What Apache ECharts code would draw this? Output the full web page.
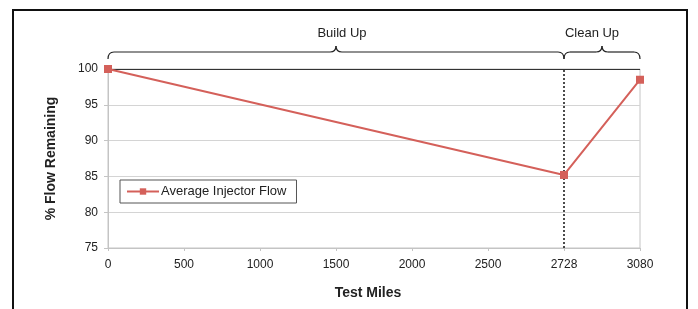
<!DOCTYPE html>
<html>
<head>
<meta charset="utf-8">
<script src="https://cdn.jsdelivr.net/npm/echarts@6/dist/echarts.min.js"></script>
<style>
  html, body { margin: 0; padding: 0; background: #fff; }
  #main { width: 698px; height: 309px; }
</style>
</head>
<body>
<div id="main"></div>
<script>
  // tick labels on the x axis (evenly spaced, not to scale)
  var xTicks = ['0', '500', '1000', '1500', '2000', '2500', '2728', '3080']
  // measured points
  var miles = ['0', '2728', '3080']
  var flow = [100, 85.2, 98.5]
  // phase annotations
  var phaseNames = ['Build Up', 'Clean Up']
  var phaseFrom = ['0', '2728']
  var phaseTo = ['2728', '3080']

  var lineColor = '#d4605a'
  var font = 'Liberation Sans, Arial, sans-serif'

  var chart = echarts.init(document.getElementById('main'))

  var option = {
    animation: false,
    textStyle: { fontFamily: font },
    grid: { left: 108, right: 58, top: 69, bottom: 61, show: true, borderColor: '#c4c4c4', borderWidth: 1 },
    legend: {
      left: 120, top: 180,
      borderColor: '#555', borderWidth: 1, borderRadius: 0,
      padding: [5, 10, 5, 6],
      itemWidth: 32, itemHeight: 8, itemGap: 2,
      textStyle: { fontSize: 13, color: '#222', fontFamily: font, padding: [0, 0, 0, -3] },
      data: ['Average Injector Flow']
    },
    xAxis: {
      type: 'category',
      data: xTicks,
      boundaryGap: false,
      name: 'Test Miles',
      nameLocation: 'middle',
      nameGap: 38,
      nameTextStyle: { fontWeight: 'bold', fontSize: 14, color: '#222', padding: [0, 12, 0, 0] },
      axisLine: { lineStyle: { color: '#c4c4c4' } },
      axisTick: { show: true, length: 3, lineStyle: { color: '#c4c4c4' } },
      axisLabel: { fontSize: 12, color: '#222', margin: 11 },
      splitLine: { show: false }
    },
    yAxis: {
      type: 'value',
      min: 75, max: 100, interval: 5,
      name: '% Flow Remaining',
      nameLocation: 'middle',
      nameGap: 50,
      nameTextStyle: { fontWeight: 'bold', fontSize: 14, color: '#222' },
      axisLine: { show: true, lineStyle: { color: '#c4c4c4' } },
      axisTick: { show: true, length: 4, lineStyle: { color: '#c4c4c4' } },
      axisLabel: { fontSize: 12, color: '#222', margin: 10 },
      splitLine: { lineStyle: { color: '#d4d4d4' } }
    },
    series: [{
      name: 'Average Injector Flow',
      type: 'line',
      data: miles.map(function (m, i) { return [m, flow[i]] }),
      symbol: 'rect',
      symbolSize: 8,
      lineStyle: { color: lineColor, width: 2 },
      itemStyle: { color: lineColor },
      markLine: {
        silent: true,
        symbol: 'none',
        label: { show: false },
        data: [
          { xAxis: '2728', lineStyle: { color: '#111', type: [2, 2], width: 1.5 } },
          { yAxis: 100, lineStyle: { color: '#333', type: 'solid', width: 1 } }
        ]
      },
      z: 5
    }]
  }
  chart.setOption(option)

  // braces above the plot, placed from the axis scale
  var braceStyle = { fill: 'none', stroke: '#222', lineWidth: 1.2 }
  function curve (x1, y1, cx, cy, x2, y2) {
    return { type: 'bezierCurve', silent: true, style: braceStyle,
      shape: { x1: x1, y1: y1, cpx1: cx, cpy1: cy, x2: x2, y2: y2 } }
  }
  function seg (x1, y1, x2, y2) {
    return { type: 'line', silent: true, style: braceStyle,
      shape: { x1: x1, y1: y1, x2: x2, y2: y2 } }
  }
  function brace (x1, x2, y) {
    var mid = (x1 + x2) / 2
    return [
      curve(x1, y + 7, x1, y, x1 + 6, y),
      seg(x1 + 6, y, mid - 6, y),
      curve(mid - 6, y, mid, y, mid, y - 6),
      curve(mid, y - 6, mid, y, mid + 6, y),
      seg(mid + 6, y, x2 - 6, y),
      curve(x2 - 6, y, x2, y, x2, y + 7)
    ]
  }
  var labelShift = [6, -10]
  var graphics = [{
    type: 'rect',
    shape: { x: 13, y: 10, width: 674, height: 320 },
    style: { fill: 'none', stroke: '#111', lineWidth: 2 },
    silent: true
  }]
  phaseNames.forEach(function (name, i) {
    var x1 = chart.convertToPixel({ xAxisIndex: 0 }, phaseFrom[i])
    var x2 = chart.convertToPixel({ xAxisIndex: 0 }, phaseTo[i])
    graphics = graphics.concat(brace(x1, x2, 52))
    graphics.push({
      type: 'text',
      x: (x1 + x2) / 2 + labelShift[i], y: 33,
      style: { text: name, fontSize: 13, fill: '#222', fontFamily: font, align: 'center', verticalAlign: 'middle' },
      silent: true
    })
  })
  chart.setOption({ graphic: graphics })
</script>
</body>
</html>
